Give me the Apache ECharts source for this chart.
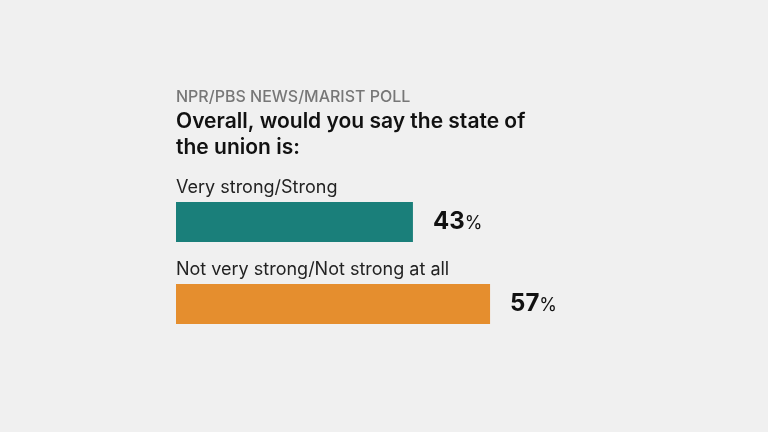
<!DOCTYPE html>
<html><head><meta charset="utf-8">
<script src="https://cdn.jsdelivr.net/npm/echarts@6/dist/echarts.min.js"></script>
<style>html,body{margin:0;padding:0;background:#f0f0f0;}#c{width:768px;height:432px;}</style>
</head><body><div id="c"></div>
<script>
const sourceText = "NPR/PBS NEWS/MARIST POLL";
const questionText = "Overall, would you say the state of\nthe union is:";
const categories = ["Very strong/Strong", "Not very strong/Not strong at all"];
const values = [43, 57];
const colors = ["#1a7f7a", "#e58e2e"];

const FONT = "Inter, 'Noto Sans', sans-serif";
const chart = echarts.init(document.getElementById('c'));
chart.setOption({
  backgroundColor: '#f0f0f0',
  animation: false,
  title: [
    { text: sourceText, left: 176, top: 89, padding: 0,
      textStyle: { fontFamily: FONT, fontSize: 16, fontWeight: 500, color: '#777777' } },
    { text: questionText, left: 176, top: 108, padding: 0,
      textStyle: { fontFamily: FONT, fontSize: 21, fontWeight: 600, color: '#111111', lineHeight: 26.5 } }
  ],
  grid: { left: 176, width: 551, top: 181, height: 164 },
  xAxis: { type: 'value', min: 0, max: 100, show: false },
  yAxis: { type: 'category', data: categories, inverse: true, show: false },
  series: [
    {
      type: 'bar', barWidth: 40, z: 2,
      data: values.map((v, i) => ({ value: v, itemStyle: { color: colors[i] } })),
      label: {
        show: true, position: 'right', distance: 20,
        formatter: p => '{a|' + p.value + '}{b|%}',
        rich: {
          a: { fontFamily: FONT, fontSize: 24, fontWeight: 700, color: '#111111' },
          b: { fontFamily: FONT, fontSize: 18, fontWeight: 400, color: '#111111', padding: [4, 0, 0, 0] }
        }
      }
    },
    {
      type: 'bar', barWidth: 40, barGap: '-100%', z: 1,
      data: values.map(v => ({ value: v, itemStyle: { color: 'transparent' } })),
      label: {
        show: true, position: [0, -14], align: 'left', verticalAlign: 'middle',
        formatter: p => categories[p.dataIndex],
        fontFamily: FONT, fontSize: 18, fontWeight: 400, color: '#222222'
      }
    }
  ]
});
</script></body></html>
